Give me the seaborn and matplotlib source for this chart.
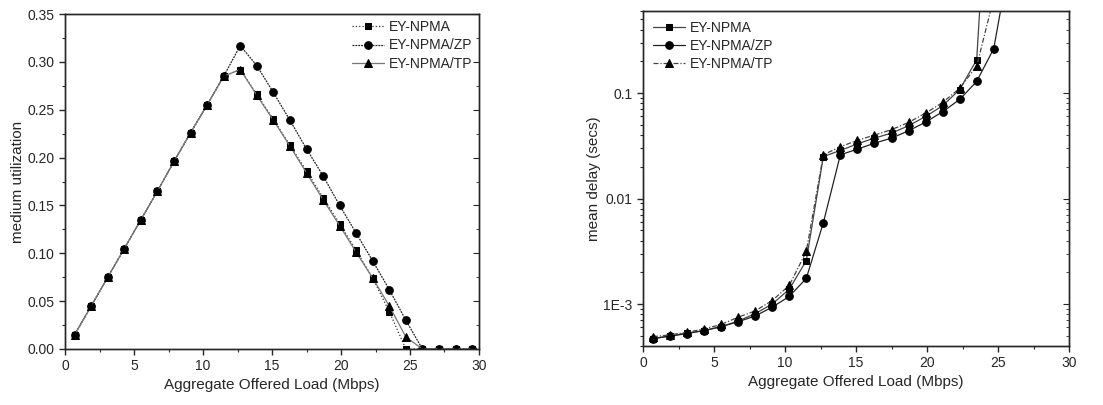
import matplotlib
matplotlib.use("Agg")
import matplotlib.pyplot as plt
import matplotlib.ticker as mticker
import seaborn as sns
import numpy as np

# offered load (Mbps), same grid for both panels
load = [0.7, 1.9, 3.1, 4.3, 5.5, 6.7, 7.9, 9.1, 10.3, 11.5, 12.7, 13.9, 15.1,
        16.3, 17.5, 18.7, 19.9, 21.1, 22.3, 23.5, 24.7, 25.9, 27.1, 28.3, 29.5]

# medium utilization (left panel)
util_npma = [0.015, 0.045, 0.075, 0.105, 0.135, 0.165, 0.196, 0.226, 0.255, 0.285,
             0.292, 0.266, 0.240, 0.213, 0.186, 0.158, 0.131, 0.103, 0.074, 0.039,
             0.0, 0.0, 0.0, 0.0, 0.0]
util_zp = [0.015, 0.045, 0.075, 0.105, 0.135, 0.165, 0.196, 0.226, 0.255, 0.285,
           0.317, 0.296, 0.268, 0.239, 0.209, 0.181, 0.150, 0.121, 0.092, 0.062,
           0.030, 0.0, 0.0, 0.0, 0.0]
util_tp = [0.015, 0.045, 0.075, 0.105, 0.135, 0.165, 0.196, 0.226, 0.255, 0.285,
           0.292, 0.265, 0.239, 0.212, 0.184, 0.156, 0.129, 0.101, 0.074, 0.045,
           0.0125, 0.0, 0.0, 0.0, 0.0]

# mean delay in secs (right panel), values past the top of the axis are clipped
delay_npma = [4.7e-4, 5.0e-4, 5.3e-4, 5.6e-4, 6.1e-4, 6.9e-4, 8.1e-4, 1.0e-3, 1.38e-3,
              2.58e-3, 0.025, 0.0286, 0.033, 0.0374, 0.0417, 0.049, 0.060, 0.0758,
              0.108, 0.207, 100.0]
delay_zp = [4.7e-4, 4.95e-4, 5.25e-4, 5.6e-4, 6.1e-4, 6.8e-4, 7.7e-4, 9.35e-4, 1.18e-3,
            1.75e-3, 5.9e-3, 0.026, 0.0294, 0.0335, 0.0374, 0.0439, 0.053, 0.0665,
            0.087, 0.129, 0.264, 2.1]
delay_tp = [4.9e-4, 5.1e-4, 5.4e-4, 5.8e-4, 6.4e-4, 7.5e-4, 8.6e-4, 1.08e-3, 1.5e-3,
            3.15e-3, 0.026, 0.031, 0.0356, 0.040, 0.045, 0.0527, 0.0645, 0.0815,
            0.111, 0.18, 0.8]

labels = ["EY-NPMA", "EY-NPMA/ZP", "EY-NPMA/TP"]

sns.set_style("ticks")
plt.rcParams['font.family'] = ['Liberation Sans', 'DejaVu Sans']
plt.rcParams['axes.linewidth'] = 1.0

fig = plt.figure(figsize=(11.03, 4.05), dpi=100)
ax1 = fig.add_axes([65 / 1103, 56 / 405, 414 / 1103, 335 / 405])
ax2 = fig.add_axes([643 / 1103, 59 / 405, 426 / 1103, 335 / 405])

ms = 5.5

# ---- left: medium utilization
sns.lineplot(x=load, y=util_npma, ax=ax1, color="#333333", lw=0.9, linestyle=":",
             marker="s", markersize=ms - 0.5, markeredgecolor="k", markerfacecolor="k",
             label=labels[0])
sns.lineplot(x=load, y=util_zp, ax=ax1, color="#222222", lw=0.9, linestyle=(0, (1.5, 0.8)),
             marker="o", markersize=ms, markeredgecolor="k", markerfacecolor="k",
             label=labels[1])
sns.lineplot(x=load, y=util_tp, ax=ax1, color="#777777", lw=0.9, linestyle="-",
             marker="^", markersize=ms, markeredgecolor="k", markerfacecolor="k",
             label=labels[2])
ax1.set_xlim(0, 30)
ax1.set_ylim(0, 0.35)
ax1.xaxis.set_major_locator(mticker.MultipleLocator(5))
ax1.xaxis.set_minor_locator(mticker.MultipleLocator(2.5))
ax1.yaxis.set_major_locator(mticker.MultipleLocator(0.05))
ax1.yaxis.set_minor_locator(mticker.MultipleLocator(0.025))
ax1.yaxis.set_major_formatter(mticker.FormatStrFormatter('%.2f'))
ax1.set_xlabel("Aggregate Offered Load (Mbps)", fontsize=11, labelpad=3)
ax1.set_ylabel("medium utilization", fontsize=11, labelpad=2)
ax1.legend(loc="upper right", frameon=False, fontsize=10, handlelength=2.3,
           borderaxespad=0.05, labelspacing=0.3, handletextpad=0.4)
r1 = ax1.twinx()
r1.set_ylim(ax1.get_ylim())
r1.yaxis.set_major_locator(mticker.MultipleLocator(0.05))
r1.yaxis.set_minor_locator(mticker.MultipleLocator(0.025))
r1.tick_params(axis='y', which='both', direction='in', labelright=False)

# ---- right: mean delay
sns.lineplot(x=load[:len(delay_npma)], y=delay_npma, ax=ax2, color="#444444", lw=0.9,
             linestyle="-", marker="s", markersize=ms - 0.5, markeredgecolor="k",
             markerfacecolor="k", label=labels[0])
sns.lineplot(x=load[:len(delay_zp)], y=delay_zp, ax=ax2, color="#222222", lw=0.9,
             linestyle="-", marker="o", markersize=ms, markeredgecolor="k",
             markerfacecolor="k", label=labels[1])
sns.lineplot(x=load[:len(delay_tp)], y=delay_tp, ax=ax2, color="#444444", lw=0.9,
             linestyle=(0, (4, 1.5, 1, 1.5)), marker="^", markersize=ms,
             markeredgecolor="k", markerfacecolor="k", label=labels[2])
ax2.set_yscale("log")
ax2.set_xlim(0, 30)
ax2.set_ylim(4e-4, 0.6)
ax2.xaxis.set_major_locator(mticker.MultipleLocator(5))
ax2.xaxis.set_minor_locator(mticker.MultipleLocator(2.5))
ax2.yaxis.set_major_locator(mticker.FixedLocator([1e-3, 1e-2, 1e-1]))
ax2.yaxis.set_major_formatter(mticker.FixedFormatter(["1E-3", "0.01", "0.1"]))
ax2.yaxis.set_minor_locator(mticker.LogLocator(base=10, subs=np.arange(2, 10)))
ax2.yaxis.set_minor_formatter(mticker.NullFormatter())
ax2.set_xlabel("Aggregate Offered Load (Mbps)", fontsize=11, labelpad=3)
ax2.set_ylabel("mean delay (secs)", fontsize=11, labelpad=2)
ax2.legend(loc="upper left", frameon=False, fontsize=10, handlelength=2.3,
           borderaxespad=0.3, labelspacing=0.3, handletextpad=0.4)
ax2.spines['top'].set_linestyle((0, (1, 1)))
r2 = ax2.twinx()
r2.set_yscale("log")
r2.set_ylim(ax2.get_ylim())
r2.yaxis.set_major_locator(mticker.FixedLocator([1e-3, 1e-2, 1e-1]))
r2.yaxis.set_minor_locator(mticker.LogLocator(base=10, subs=np.arange(2, 10)))
r2.yaxis.set_minor_formatter(mticker.NullFormatter())
r2.tick_params(axis='y', which='both', direction='in', labelright=False)

for a in (ax1, ax2):
    a.tick_params(axis='both', which='major', direction='out', length=4, width=1,
                  labelsize=10, top=False)
    a.tick_params(axis='both', which='minor', direction='out', length=2, width=0.8)
for r in (r1, r2):
    r.tick_params(axis='y', which='major', length=4)
    r.tick_params(axis='y', which='minor', length=2)

fig.savefig("out.png", dpi=100)
